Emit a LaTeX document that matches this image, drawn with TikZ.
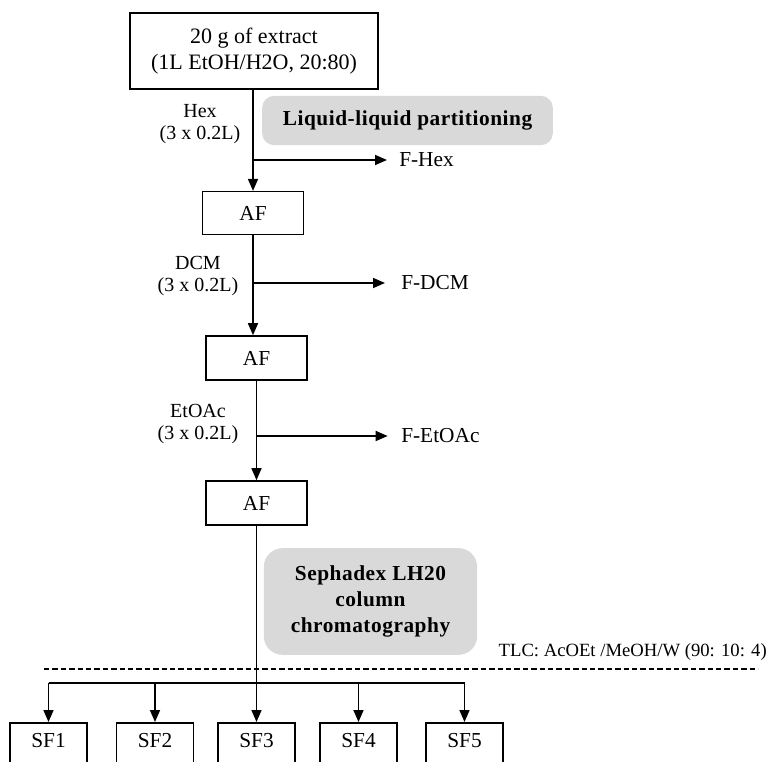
\documentclass[tikz,border=0pt]{standalone}
\usepackage{fontspec}
\setmainfont{Liberation Serif}
\usetikzlibrary{arrows.meta}
\begin{document}
\begin{tikzpicture}[x=0.75pt,y=-0.75pt,
  box/.style={draw,line width=1.2pt,inner sep=0pt,align=center,font=\fontsize{16.5}{19.5}\selectfont},
  afbox/.style={box,minimum width=76pt,minimum height=32pt,font=\fontsize{16}{19}\selectfont},
  sfbox/.style={box,minimum width=57.75pt,minimum height=33pt,font=\fontsize{16}{19}\selectfont,text height=10.6pt,text depth=6pt},
  graybox/.style={fill=black!15,inner sep=0pt,align=center,font=\fontsize{16}{19}\selectfont\bfseries\addfontfeature{LetterSpace=2.5}},
  lbl/.style={font=\fontsize{15}{16.5}\selectfont,align=center,inner sep=0pt},
  fracn/.style={font=\fontsize{16}{19}\selectfont,anchor=west,inner sep=0pt},
  arr/.style={line width=1.2pt,-{Triangle[length=9pt,width=7.5pt]}},
  ln/.style={line width=1.2pt},
  dashline/.style={line width=0.9pt,dash pattern=on 4pt off 2.3pt}]
\useasboundingbox (0,0) rectangle (768,762);

% boxes
\node[box,minimum width=186pt,minimum height=57pt] (top) at (254,51) {20 g of extract\\(1L EtOH/H2O, 20:80)};
\node[afbox] (af1) at (253,213) {AF};
\node[afbox,minimum height=33pt] (af2) at (256.5,358) {AF};
\node[afbox,minimum height=33pt] (af3) at (256.5,503) {AF};

% gray notes
\node[graybox,rounded corners=9pt,minimum width=218pt,minimum height=37pt] (llp) at (407.5,120.5) {Liquid-liquid partitioning};
\node[graybox,rounded corners=14pt,minimum width=160pt,minimum height=80pt,font=\fontsize{16}{19.2}\selectfont\bfseries\addfontfeature{LetterSpace=2.5}] (sep) at (370.5,601.5) {Sephadex LH20\\column\\chromatography};

% solvent labels
\node[lbl] (hex) at (200,124) {Hex\\(3 x 0.2L)};
\node[lbl] (dcm) at (198,276.5) {DCM\\(3 x 0.2L)};
\node[lbl] (etoac) at (198,424) {EtOAc\\(3 x 0.2L)};

% fractions
\node[fracn] (fhex) at (399,160) {F-Hex};
\node[fracn] (fdcm) at (401,283) {F-DCM};
\node[fracn] (fetoac) at (401,436) {F-EtOAc};

% main flow
\draw[arr] (top.south -| af1.north) -- (af1.north);
\draw[arr] (af1.south) -- (af1.south |- af2.north);
\draw[arr] (af2.south) -- (af2.south |- af3.north);

% side branches
\coordinate (b1) at (af1.north |- fhex.west);
\coordinate (b2) at (af1.south |- fdcm.west);
\coordinate (b3) at (af2.south |- fetoac.west);
\draw[arr] (b1) -- ([xshift=-9pt]fhex.west);
\draw[arr] (b2) -- ([xshift=-12pt]fdcm.west);
\draw[arr] (b3) -- ([xshift=-10pt]fetoac.west);

% TLC and dashed line
\coordinate (d1) at (44,669);
\coordinate (d2) at (758,669);
\draw[dashline] (d1) -- (d2);
\node[font=\fontsize{14}{16}\selectfont,anchor=east,inner sep=0pt] (tlc) at (767,652) {TLC: AcOEt /MeOH/W (90: 10: 4)};

% sub-fractions
\node[sfbox,anchor=north] (sf1) at (48.5,722) {SF1};
\node[sfbox,anchor=north] (sf2) at (155,722) {SF2};
\node[sfbox,anchor=north] (sf3) at (256.5,722) {SF3};
\node[sfbox,anchor=north] (sf4) at (358.5,722) {SF4};
\node[sfbox,anchor=north] (sf5) at (464.5,722) {SF5};

\coordinate (hb) at (256.5,683);
\draw[ln] (sf1.north |- hb) -- (sf5.north |- hb);
\draw[arr] (af3.south) -- (sf3.north);
\draw[arr] (sf1.north |- hb) -- (sf1.north);
\draw[arr] (sf2.north |- hb) -- (sf2.north);
\draw[arr] (sf4.north |- hb) -- (sf4.north);
\draw[arr] (sf5.north |- hb) -- (sf5.north);
\end{tikzpicture}
\end{document}
